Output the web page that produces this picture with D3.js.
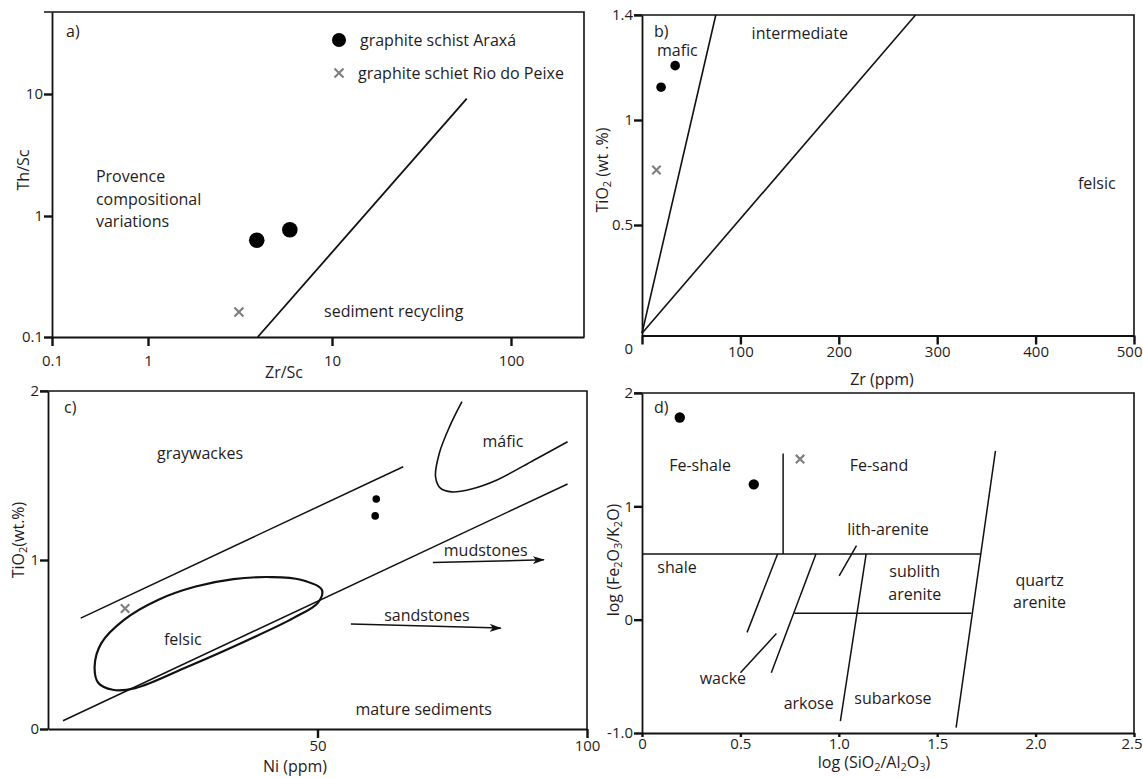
<!DOCTYPE html>
<html>
<head>
<meta charset="utf-8">
<script src="https://cdn.jsdelivr.net/npm/d3@7/dist/d3.min.js"></script>
<style>
  body { margin: 0; background: #fff; }
  svg text { font-family: "Open Sans", "Noto Sans", sans-serif; font-size: 16px; fill: #1f1c1d; }
  svg .tick text { font-size: 15px; }
</style>
</head>
<body>
<svg id="chart" width="1143" height="778"></svg>
<script>
// ---- panel a: Th/Sc vs Zr/Sc (log-log)
const aAraxa = [[3.9, 0.63], [5.9, 0.77]];
const aRioPeixe = [[3.12, 0.161]];
const aBoundary = [[3.95, 0.1], [56.6, 9.15]];
const aXTicks = [0.1, 1, 10, 100];
const aYTicks = [0.1, 1, 10];
const aLabels = [
  { text: "sediment recycling", x: 9.05, y: 0.164, anchor: "start" }
];
const aProvence = ["Provence", "compositional", "variations"];

// ---- panel b: TiO2 vs Zr
const bAraxa = [[33.7, 1.207], [19.4, 1.125]];
const bRioPeixe = [[14.7, 0.762]];
const bLines = [
  [[0, 0.01], [75, 1.4]],
  [[0, 0.01], [278, 1.4]]
];
const bXTicks = [0, 100, 200, 300, 400, 500];
const bYTicks = [0.5, 1, 1.4];
const bLabels = [
  { text: "mafic", x: 15.2, y: 1.264, anchor: "start" },
  { text: "intermediate", x: 111.4, y: 1.331, anchor: "start" },
  { text: "felsic", x: 443, y: 0.70, anchor: "start" }
];

// ---- panel c: TiO2 vs Ni
const cAraxa = [[60.9, 1.361], [60.7, 1.261]];
const cRioPeixe = [[14.3, 0.713]];
const cUpperLine = [[6.07, 0.656], [65.9, 1.552]];
const cLowerLine = [[2.78, 0.049], [96.4, 1.450]];
const cMafic = [[76.8, 1.937], [74.5, 1.789], [72.6, 1.632], [71.9, 1.493], [72.8, 1.425],
  [74.9, 1.403], [78.4, 1.419], [83.3, 1.474], [90.2, 1.592], [96.4, 1.700]];
const cFelsic = [[50.8, 0.824], [46.9, 0.883], [41.4, 0.899], [34.4, 0.887], [27.4, 0.843],
  [20.4, 0.764], [14.1, 0.646], [9.9, 0.508], [8.65, 0.370], [9.35, 0.272], [12.0, 0.232],
  [16.2, 0.242], [26.0, 0.370], [36.5, 0.518], [45.5, 0.656], [50.1, 0.748]];
const cArrows = [
  [[71.4, 0.985], [92.0, 1.001]],
  [[56.2, 0.621], [84.0, 0.597]]
];
const cXTicks = [50, 100];
const cYTicks = [0, 1, 2];
const cLabels = [
  { text: "graywackes", x: 28.2, y: 1.633 },
  { text: "máfic", x: 84.4, y: 1.700 },
  { text: "mudstones", x: 81.2, y: 1.054 },
  { text: "sandstones", x: 70.3, y: 0.674 },
  { text: "felsic", x: 25.0, y: 0.528 },
  { text: "mature sediments", x: 69.7, y: 0.114 }
];

// ---- panel d: log(Fe2O3/K2O) vs log(SiO2/Al2O3)
const dAraxa = [[0.192, 1.784], [0.568, 1.194]];
const dRioPeixe = [[0.803, 1.417]];
const dLines = [
  [[0.717, 1.467], [0.717, 0.58]],
  [[0, 0.58], [1.72, 0.58]],
  [[0.774, 0.056], [1.674, 0.056]],
  [[0.689, 0.58], [0.534, -0.112]],
  [[0.884, 0.58], [0.657, -0.469]],
  [[1.139, 0.58], [1.008, -0.895]],
  [[1.796, 1.490], [1.596, -0.953]],
  [[1.090, 0.654], [1.002, 0.387]],
  [[0.683, -0.123], [0.500, -0.469]]
];
const dXTicks = [0, 0.5, 1, 1.5, 2, 2.5];
const dYTicks = [-1, 0, 1, 2];
const dLabels = [
  { text: ["Fe-shale"], x: 0.295, y: 1.314 },
  { text: ["Fe-sand"], x: 1.204, y: 1.314 },
  { text: ["lith-arenite"], x: 1.250, y: 0.746 },
  { text: ["shale"], x: 0.178, y: 0.414 },
  { text: ["sublith", "arenite"], x: 1.386, y: 0.376 },
  { text: ["quartz", "arenite"], x: 2.02, y: 0.299 },
  { text: ["wacke"], x: 0.411, y: -0.572 },
  { text: ["arkose"], x: 0.847, y: -0.792 },
  { text: ["subarkose"], x: 1.275, y: -0.742 }
];

const svg = d3.select("#chart");
const crossColor = "#808080";

svg.append("defs").append("marker")
  .attr("id", "arrow")
  .attr("viewBox", "0 0 12 8")
  .attr("refX", 11).attr("refY", 4)
  .attr("markerWidth", 12).attr("markerHeight", 8)
  .attr("markerUnits", "userSpaceOnUse")
  .attr("orient", "auto")
  .append("path")
  .attr("d", "M0,0L12,4L0,8L3,4Z")
  .attr("fill", "#111");

// scales (piecewise where the printed axes are uneven)
const ax = d3.scaleLog().domain([0.1, 1, 10, 100, 252]).range([52, 148, 332, 511, 584]);
const ay = d3.scaleLog().domain([0.1, 1, 10, 48]).range([337, 216, 94, 12]);
const bx = d3.scaleLinear().domain([0, 500]).range([642, 1134]);
const by = d3.scaleLinear().domain([0, 0.5, 1, 1.4]).range([335.5, 225, 120, 15]);
const cx = d3.scaleLinear().domain([0, 100]).range([48, 587]);
const cy = d3.scaleLinear().domain([0, 2]).range([729, 391]);
const dx = d3.scaleLinear().domain([0, 2.5]).range([642, 1134]);
const dy = d3.scaleLinear().domain([-1, 2]).range([733, 393]);

// draws the box and the two axes of one panel
function frame(x, y, o) {
  const g = svg.append("g");
  const left = x.range()[0], right = x.range()[x.range().length - 1];
  const bottom = y.range()[0], top = y.range()[y.range().length - 1];

  g.append("path")
    .attr("d", `M${left - 8},${top}H${right}V${bottom}`)
    .attr("fill", "none").attr("stroke", "#111").attr("stroke-width", 1.6);

  const xa = g.append("g")
    .attr("transform", `translate(0,${bottom})`)
    .call(d3.axisBottom(x).tickValues(o.xTicks).tickFormat(o.xFormat)
      .tickSize(o.xTickSize || 9).tickSizeOuter(0).tickPadding(o.xPad || 3));
  const ya = g.append("g")
    .attr("transform", `translate(${left},0)`)
    .call(d3.axisLeft(y).tickValues(o.yTicks).tickFormat(o.yFormat)
      .tickSize(8).tickSizeOuter(0).tickPadding(1));

  [xa, ya].forEach(a => {
    a.attr("font-family", null).attr("font-size", null);
    a.select(".domain").attr("stroke", "#111").attr("stroke-width", 1.8);
    a.selectAll(".tick line").attr("stroke", "#111").attr("stroke-width", 2.4);
    a.selectAll(".tick text").attr("fill", null);
  });
  // keep the last x label inside the picture
  if (o.lastEnd) xa.selectAll(".tick:last-of-type text").attr("text-anchor", "end").attr("dx", 8);
  return g;
}

function richText(g, parts, px, py, rotate) {
  const t = g.append("text")
    .attr("text-anchor", "middle")
    .attr("transform", `translate(${px},${py}) rotate(${rotate || 0})`);
  parts.forEach(p => {
    if (typeof p === "string") t.append("tspan").text(p);
    else t.append("tspan").attr("baseline-shift", "-3px").style("font-size", "11px").text(p.sub);
  });
}

function dots(g, data, x, y, r) {
  g.selectAll(null).data(data).enter().append("circle")
    .attr("cx", d => x(d[0])).attr("cy", d => y(d[1])).attr("r", r).attr("fill", "#000");
}

function crosses(g, data, x, y, s) {
  g.selectAll(null).data(data).enter().append("path")
    .attr("d", d => {
      const px = x(d[0]), py = y(d[1]);
      return `M${px - s},${py - s}L${px + s},${py + s}M${px - s},${py + s}L${px + s},${py - s}`;
    })
    .attr("stroke", crossColor).attr("stroke-width", 2.2);
}

function segment(g, pts, x, y, w) {
  return g.append("path")
    .attr("d", d3.line().x(d => x(d[0])).y(d => y(d[1]))(pts))
    .attr("fill", "none").attr("stroke", "#111").attr("stroke-width", w || 1.6);
}

// ---------------- panel a
const ga = frame(ax, ay, {
  xTicks: aXTicks, yTicks: aYTicks,
  xFormat: d3.format("~g"), yFormat: d3.format("~g"), xPad: 9
});
ga.append("text").attr("x", 66).attr("y", 37).text("a)");
segment(ga, aBoundary, ax, ay, 1.8);
dots(ga, aAraxa, ax, ay, 7.8);
crosses(ga, aRioPeixe, ax, ay, 4.5);
aLabels.forEach(l => ga.append("text").attr("x", ax(l.x)).attr("y", ay(l.y)).attr("dy", "0.35em")
  .attr("text-anchor", l.anchor).text(l.text));
ga.append("text").attr("x", ax(0.287)).attr("y", ay(1.89)).attr("dy", "0.35em")
  .selectAll("tspan").data(aProvence).enter().append("tspan")
  .attr("x", ax(0.287)).attr("dy", (d, i) => i ? 22.5 : 0).text(d => d);
// legend
const legA = ga.append("g").attr("transform", "translate(339,40)");
legA.append("circle").attr("r", 7).attr("fill", "#000");
legA.append("text").attr("x", 21).attr("dy", "0.35em").text("graphite schist Araxá");
crosses(legA, [[0, 33]], d => d, d => d, 4.5);
legA.append("text").attr("x", 19).attr("y", 33).attr("dy", "0.35em").text("graphite schiet Rio do Peixe");
richText(ga, ["Zr/Sc"], 284, 378, 0);
richText(ga, ["Th/Sc"], 29, 170, -90);

// ---------------- panel b
const gb = frame(bx, by, {
  xTicks: bXTicks, yTicks: bYTicks,
  xFormat: d => d === 0 ? "" : d, yFormat: d3.format("~g"), xPad: 2, lastEnd: true
});
gb.append("text").attr("x", bx(0) - 9).attr("y", by(0) + 18).attr("text-anchor", "end")
  .style("font-size", "15px").text("0");
gb.append("text").attr("x", 654).attr("y", 37).text("b)");
bLines.forEach(l => segment(gb, l, bx, by, 1.6));
dots(gb, bAraxa, bx, by, 4.8);
crosses(gb, bRioPeixe, bx, by, 4.2);
bLabels.forEach(l => gb.append("text").attr("x", bx(l.x)).attr("y", by(l.y)).attr("dy", "0.35em")
  .attr("text-anchor", l.anchor).text(l.text));
richText(gb, ["Zr (ppm)"], 882, 385, 0);
richText(gb, ["TiO", { sub: "2" }, " (wt .%)"], 608, 170, -90);

// ---------------- panel c
const gc = frame(cx, cy, {
  xTicks: cXTicks, yTicks: cYTicks,
  xFormat: d3.format("~g"), yFormat: d3.format("~g"), xPad: 2
});
gc.append("text").attr("x", 64).attr("y", 413).text("c)");
segment(gc, cUpperLine, cx, cy, 1.5);
segment(gc, cLowerLine, cx, cy, 1.5);
gc.append("path")
  .attr("d", d3.line().x(d => cx(d[0])).y(d => cy(d[1])).curve(d3.curveCatmullRom)(cMafic))
  .attr("fill", "none").attr("stroke", "#111").attr("stroke-width", 1.6);
gc.append("path")
  .attr("d", d3.line().x(d => cx(d[0])).y(d => cy(d[1])).curve(d3.curveCatmullRomClosed)(cFelsic))
  .attr("fill", "none").attr("stroke", "#111").attr("stroke-width", 2.2);
cArrows.forEach(a => segment(gc, a, cx, cy, 1.5).attr("marker-end", "url(#arrow)"));
dots(gc, cAraxa, cx, cy, 3.8);
crosses(gc, cRioPeixe, cx, cy, 4.2);
cLabels.forEach(l => gc.append("text").attr("x", cx(l.x)).attr("y", cy(l.y)).attr("dy", "0.35em")
  .attr("text-anchor", "middle").text(l.text));
richText(gc, ["Ni (ppm)"], 295, 772, 0);
richText(gc, ["TiO", { sub: "2" }, "(wt.%)"], 24, 540, -90);

// ---------------- panel d
const gd = frame(dx, dy, {
  xTicks: dXTicks, yTicks: dYTicks,
  xFormat: d => d === 0 ? "0" : d3.format(".1f")(d),
  yFormat: d => d === -1 ? "-1.0" : d3.format("d")(d),
  xTickSize: 4, xPad: 1, lastEnd: true
});
gd.append("text").attr("x", 654).attr("y", 413).text("d)");
dLines.forEach(l => segment(gd, l, dx, dy, 1.5));
dots(gd, dAraxa, dx, dy, 5.2);
crosses(gd, dRioPeixe, dx, dy, 4.2);
dLabels.forEach(l => {
  const t = gd.append("text").attr("text-anchor", "middle")
    .attr("y", dy(l.y)).attr("dy", "0.35em");
  t.selectAll("tspan").data(l.text).enter().append("tspan")
    .attr("x", dx(l.x)).attr("dy", (d, i) => i ? 22.5 : 0).text(d => d);
});
richText(gd, ["log (SiO", { sub: "2" }, "/Al", { sub: "2" }, "O", { sub: "3" }, ")"], 874, 768, 0);
richText(gd, ["log (Fe", { sub: "2" }, "O", { sub: "3" }, "/K", { sub: "2" }, "O)"], 619, 560, -90);
</script>
</body>
</html>
